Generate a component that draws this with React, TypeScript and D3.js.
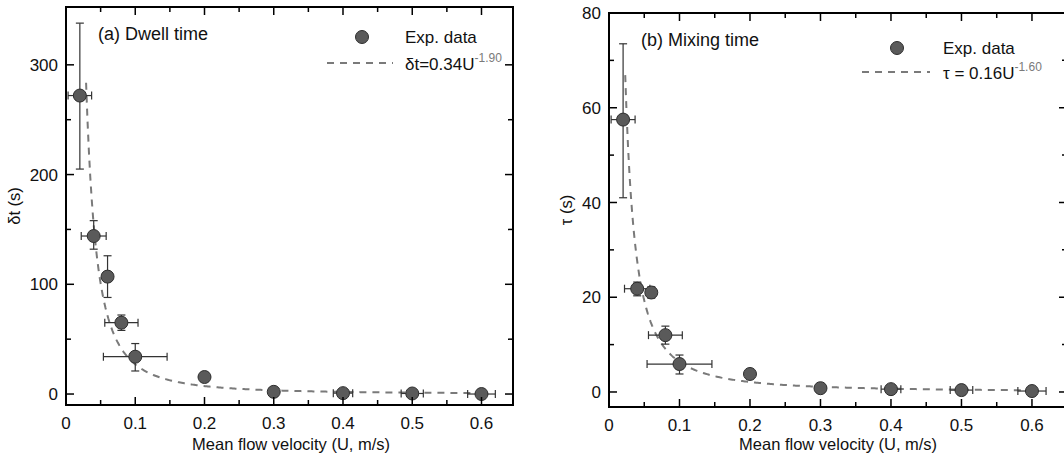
import React from "react";
import * as d3 from "d3";

// flow velocities (m/s)
const velocity = [0.02, 0.04, 0.06, 0.08, 0.1, 0.2, 0.3, 0.4, 0.5, 0.6];
const velocityErr = [0.017, 0.018, 0, 0.024, 0.046, 0, 0, 0.014, 0.016, 0.02];

// (a) dwell time
const dwellTime = [272, 144, 107, 65, 34, 15.5, 2, 0.8, 0.5, 0];
const dwellErrUp = [66, 14, 19, 7, 12, 4, 0, 0, 0, 0];
const dwellErrDown = [67, 12, 19, 7, 13, 4, 0, 0, 0, 0];
const dwellFit = { a: 0.34, b: -1.9, from: 0.029 };

// (b) mixing time
const mixingTime = [57.5, 21.8, 21, 12, 5.9, 3.8, 0.8, 0.6, 0.4, 0.2];
const mixingErrUp = [16, 1.4, 1.2, 1.9, 1.9, 1, 0, 0, 0, 0];
const mixingErrDown = [16.5, 1.5, 1.2, 1.9, 2.1, 1, 0, 0, 0, 0];
const mixingFit = { a: 0.16, b: -1.6, from: 0.023 };

const xTicks = [0, 0.1, 0.2, 0.3, 0.4, 0.5, 0.6];
const xMinor = [0.05, 0.15, 0.25, 0.35, 0.45, 0.55];
const dwellTicks = [0, 100, 200, 300];
const dwellMinor = [50, 150, 250];
const mixingTicks = [0, 20, 40, 60, 80];
const mixingMinor = [10, 30, 50, 70];

const FONT = "'Liberation Sans', Arial, sans-serif";
const GREY = "#7a7a7a";

type PanelProps = {
  x0: number; x1: number; y0: number; y1: number;
  xMax: number; yDomain: [number, number];
  values: number[]; errUp: number[]; errDown: number[];
  fit: { a: number; b: number; from: number };
  yTicks: number[]; yMinor: number[];
  title: string; yLabel: string; yLabelX: number;
  fitLabel: string; fitExp: string;
  legend: { marker: number; text: number; lineFrom: number; lineTo: number; top: number; lineY: number };
};

const Panel = (p: PanelProps) => {
  const x = d3.scaleLinear().domain([0, p.xMax]).range([p.x0, p.x1]);
  const y = d3.scaleLinear().domain(p.yDomain).range([p.y1, p.y0]);

  // fitted power law from the legend
  const fitPts = d3.range(p.fit.from, 0.6001, 0.002).map((u) => [u, p.fit.a * Math.pow(u, p.fit.b)] as [number, number]);
  const line = d3.line<[number, number]>().x((d) => x(d[0])).y((d) => y(d[1]));

  const cap = 4;
  return (
    <g fontFamily={FONT}>
      <path d={line(fitPts) || ""} fill="none" stroke={GREY} strokeWidth={2} strokeDasharray="7,6" />

      {/* error bars */}
      {velocity.map((u, i) => {
        const cx = x(u), cy = y(p.values[i]);
        const up = p.errUp[i], dn = p.errDown[i], xe = velocityErr[i];
        return (
          <g key={"e" + i} stroke="#333" strokeWidth={1.2}>
            {up + dn > 0 && (
              <>
                <line x1={cx} x2={cx} y1={y(p.values[i] + up)} y2={y(p.values[i] - dn)} />
                <line x1={cx - cap} x2={cx + cap} y1={y(p.values[i] + up)} y2={y(p.values[i] + up)} />
                <line x1={cx - cap} x2={cx + cap} y1={y(p.values[i] - dn)} y2={y(p.values[i] - dn)} />
              </>
            )}
            {xe > 0 && (
              <>
                <line x1={x(u - xe)} x2={x(u + xe)} y1={cy} y2={cy} />
                <line x1={x(u - xe)} x2={x(u - xe)} y1={cy - cap} y2={cy + cap} />
                <line x1={x(u + xe)} x2={x(u + xe)} y1={cy - cap} y2={cy + cap} />
              </>
            )}
          </g>
        );
      })}

      {velocity.map((u, i) => (
        <circle key={"m" + i} cx={x(u)} cy={y(p.values[i])} r={6.5} fill="#5a5a5a" stroke="#2e2e2e" strokeWidth={1} />
      ))}

      {/* ticks, all pointing inward */}
      <g stroke="#000" strokeWidth={1.5}>
        {xTicks.map((t) => (
          <g key={"xt" + t}>
            <line x1={x(t)} x2={x(t)} y1={p.y1} y2={p.y1 - 8} />
            <line x1={x(t)} x2={x(t)} y1={p.y0} y2={p.y0 + 8} />
          </g>
        ))}
        {xMinor.map((t) => (
          <g key={"xm" + t}>
            <line x1={x(t)} x2={x(t)} y1={p.y1} y2={p.y1 - 5} />
            <line x1={x(t)} x2={x(t)} y1={p.y0} y2={p.y0 + 5} />
          </g>
        ))}
        {p.yTicks.map((t) => (
          <g key={"yt" + t}>
            <line x1={p.x0} x2={p.x0 + 8} y1={y(t)} y2={y(t)} />
            <line x1={p.x1} x2={p.x1 - 8} y1={y(t)} y2={y(t)} />
          </g>
        ))}
        {p.yMinor.map((t) => (
          <g key={"ym" + t}>
            <line x1={p.x0} x2={p.x0 + 5} y1={y(t)} y2={y(t)} />
            <line x1={p.x1} x2={p.x1 - 5} y1={y(t)} y2={y(t)} />
          </g>
        ))}
      </g>

      <rect x={p.x0} y={p.y0} width={p.x1 - p.x0} height={p.y1 - p.y0} fill="none" stroke="#000" strokeWidth={2} />

      {/* tick labels */}
      <g fontSize={17} fill="#111">
        {xTicks.map((t) => (
          <text key={"xl" + t} x={x(t)} y={p.y1 + 24} textAnchor="middle">{d3.format("~g")(t)}</text>
        ))}
        {p.yTicks.map((t) => (
          <text key={"yl" + t} x={p.x0 - 8} y={y(t)} dy="0.36em" textAnchor="end">{t}</text>
        ))}
      </g>

      <text x={x(0.325)} y={450} fontSize={16.5} textAnchor="middle" fill="#111">
        Mean flow velocity (U, m/s)
      </text>
      <text transform={`translate(${p.yLabelX},${(p.y0 + p.y1) / 2}) rotate(-90)`} fontSize={16.5} textAnchor="middle" fill="#111">
        {p.yLabel}
      </text>

      <text x={x(0) + 32} y={p.y0 + 33} fontSize={18} fill="#111">{p.title}</text>

      {/* legend */}
      <circle cx={p.legend.marker} cy={p.legend.top} r={6.5} fill="#5a5a5a" stroke="#2e2e2e" strokeWidth={1} />
      <text x={p.legend.text} y={p.legend.top + 6} fontSize={17} fill="#111">Exp. data</text>
      <line x1={p.legend.lineFrom} x2={p.legend.lineTo} y1={p.legend.lineY} y2={p.legend.lineY} stroke={GREY} strokeWidth={2} strokeDasharray="7,6" />
      <text x={p.legend.text} y={p.legend.lineY + 7} fontSize={17} fill="#111">
        {p.fitLabel}
        <tspan dy={-8} fontSize={12} fill={GREY}>{p.fitExp}</tspan>
      </text>
    </g>
  );
};

export default function App() {
  return (
    <svg width={1064} height={457} style={{ position: "absolute", left: 0, top: 0, background: "#fff" }}>
      <Panel
        x0={66} x1={513} y0={7} y1={405}
        xMax={0.6455} yDomain={[-10, 352.7]}
        values={dwellTime} errUp={dwellErrUp} errDown={dwellErrDown} fit={dwellFit}
        yTicks={dwellTicks} yMinor={dwellMinor}
        title="(a) Dwell time" yLabel="δt (s)" yLabelX={20}
        fitLabel="δt=0.34U" fitExp="-1.90"
        legend={{ marker: 362, text: 405, lineFrom: 327, lineTo: 393, top: 37, lineY: 63 }}
      />
      <Panel
        x0={609} x1={1067} y0={13} y1={407}
        xMax={0.6497} yDomain={[-3.17, 80]}
        values={mixingTime} errUp={mixingErrUp} errDown={mixingErrDown} fit={mixingFit}
        yTicks={mixingTicks} yMinor={mixingMinor}
        title="(b) Mixing time" yLabel="τ (s)" yLabelX={572}
        fitLabel="τ = 0.16U" fitExp="-1.60"
        legend={{ marker: 897, text: 943, lineFrom: 862, lineTo: 930, top: 48, lineY: 72 }}
      />
    </svg>
  );
}
